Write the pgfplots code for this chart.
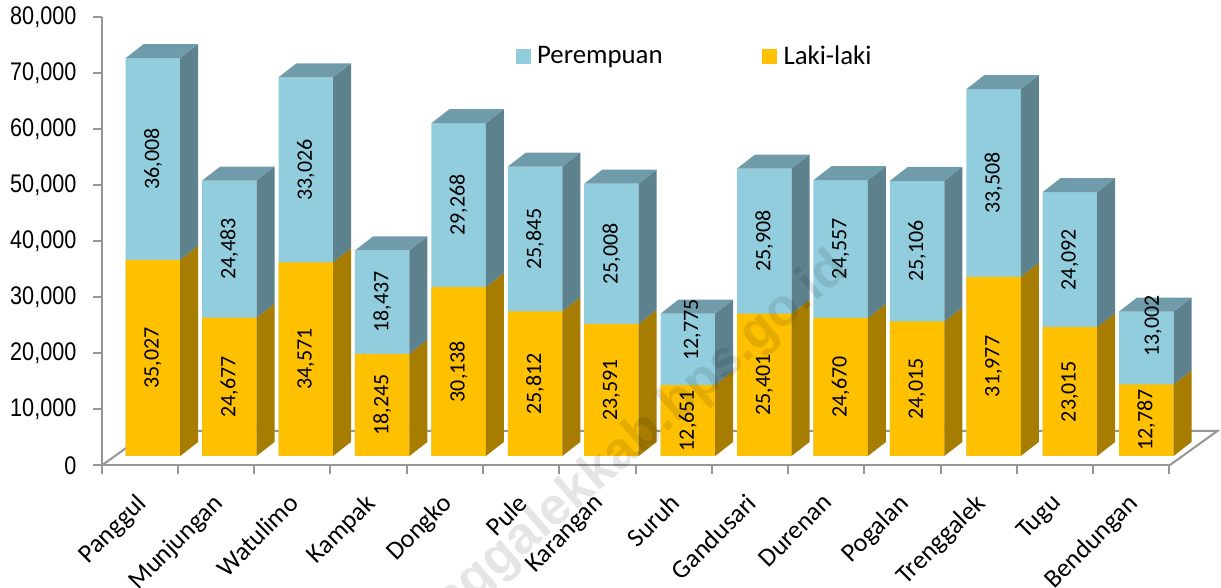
\documentclass[border=0pt]{standalone}
\usepackage{fontspec}
\setmainfont{Carlito}
\newfontfamily\arialf{Liberation Sans}
\usepackage{pgfplots}
\pgfplotsset{compat=1.18}
\usepackage{pgfplotstable}

\definecolor{bluefront}{RGB}{146,205,221}
\definecolor{blueside}{RGB}{94,130,141}
\definecolor{bluetop}{RGB}{112,155,170}
\definecolor{orangefront}{RGB}{255,192,0}
\definecolor{orangeside}{RGB}{166,125,0}
\definecolor{axisgray}{RGB}{150,150,150}

% bx, by: label offsets where the label is not centred in its segment
\pgfplotstableread{
idx name lk pr bx by
0 Panggul 35027 36008 0 0
1 Munjungan 24677 24483 0 0
2 Watulimo 34571 33026 0 0
3 Kampak 18245 18437 0 0
4 Dongko 30138 29268 0 0
5 Pule 25812 25845 0 0
6 Karangan 23591 25008 0 0
7 Suruh 12651 12775 0.06 3480
8 Gandusari 25401 25908 0 0
9 Durenan 24670 24557 0 0
10 Pogalan 24015 25106 0 0
11 Trenggalek 31977 33508 0 0
12 Tugu 23015 24092 0 0
13 Bendungan 12787 13002 0.09 3930
}\data

\newcommand{\sy}[1]{\scalebox{1}[1.18]{#1}}

\begin{document}
\begin{tikzpicture}
\useasboundingbox (-50.85pt,-61.25pt) rectangle (559.65pt,232.75pt);
\begin{axis}[
    at={(0,0)}, anchor=south west,
    scale only axis,
    width=533.8pt, height=224.1pt,
    xmin=0, xmax=14,
    ymin=-1696, ymax=78304,
    clip=false,
    scaled y ticks=false,
    axis lines*=left,
    axis line style={-,axisgray,line width=1pt},
    tick style={axisgray,line width=1pt},
    major tick length=4.5pt,
    tick align=outside,
    xtick={0,...,14},
    x tick label as interval,
    xticklabels={Panggul,Munjungan,Watulimo,Kampak,Dongko,Pule,Karangan,Suruh,Gandusari,Durenan,Pogalan,Trenggalek,Tugu,Bendungan},
    x tick label style={rotate=45,anchor=north east,font=\fontsize{13}{15}\selectfont,inner sep=1pt,xshift=-6.8pt,yshift=-3.4pt},
    ytick={-1696,8304,18304,28304,38304,48304,58304,68304,78304},
    yticklabels={\sy{0},{\sy{10,000}},{\sy{20,000}},{\sy{30,000}},{\sy{40,000}},{\sy{50,000}},{\sy{60,000}},{\sy{70,000}},{\sy{80,000}}},
    y tick label style={font=\arialf\fontsize{10.8}{12}\selectfont,inner sep=1pt,xshift=-7pt},
    legend image code/.code={\fill[#1,draw=none] (0pt,-3.75pt) rectangle (7.5pt,3.75pt);},
    legend style={
        draw=none, fill=none,
        at={(207pt,204.5pt)}, anchor=west,
        legend columns=2,
        font=\fontsize{13.4}{15}\selectfont,
        /tikz/column 1/.style={column sep=1pt},
        /tikz/column 2/.style={column sep=47.5pt},
        /tikz/column 3/.style={column sep=1.5pt},
        inner sep=0pt,
    },
]
% floor outline behind the bars
\addplot[forget plot,axisgray,line width=1pt] coordinates {(0,-1696)(0.63,4464)(14.63,4464)(14,-1696)};

\addlegendimage{fill=bluefront}
\addlegendentry{Perempuan}
\addlegendimage{fill=orangefront}
\addlegendentry{Laki-laki}

% front faces
\addplot[forget plot,ybar,bar width=27.25pt,bar shift=0pt,fill=bluefront,draw=none]
    table[x expr=\thisrow{idx}*1.0021+0.672,y expr=\thisrow{lk}+\thisrow{pr}] {\data};
\addplot[forget plot,ybar,bar width=27.25pt,bar shift=0pt,fill=orangefront,draw=none]
    table[x expr=\thisrow{idx}*1.0021+0.672,y=lk] {\data};

% side and top faces
\pgfplotsforeachungrouped \i in {0,...,13}{
    \pgfplotstablegetelem{\i}{lk}\of\data \edef\lk{\pgfplotsretval}
    \pgfplotstablegetelem{\i}{pr}\of\data \edef\pr{\pgfplotsretval}
    \edef\tot{\the\numexpr\lk+\pr\relax}
    \edef\lkb{\the\numexpr\lk+2500\relax}
    \edef\totb{\the\numexpr\tot+2500\relax}
    \pgfmathsetmacro\xl{\i*1.0021+0.672-0.357}
    \pgfmathsetmacro\xr{\i*1.0021+0.672+0.357}
    \pgfmathsetmacro\xlb{\xl+0.236}
    \pgfmathsetmacro\xrb{\xr+0.236}
    \edef\temp{\noexpand\addplot[forget plot,fill=orangeside,draw=none] coordinates {(\xr,0)(\xrb,2500)(\xrb,\lkb)(\xr,\lk)} --cycle;
        \noexpand\addplot[forget plot,fill=blueside,draw=none] coordinates {(\xr,\lk)(\xrb,\lkb)(\xrb,\totb)(\xr,\tot)} --cycle;
        \noexpand\addplot[forget plot,fill=bluetop,draw=none] coordinates {(\xl,\tot)(\xr,\tot)(\xrb,\totb)(\xlb,\totb)} --cycle;}
    \temp
}

% value labels
\addplot[forget plot,only marks,mark=none,point meta=explicit,
    nodes near coords={\pgfmathprintnumber[fixed,precision=0,1000 sep={,},assume math mode=true]{\pgfplotspointmeta}},
    nodes near coords style={rotate=90,anchor=center,inner sep=0pt,font=\fontsize{11}{13}\selectfont,text=black}]
    table[x expr=\thisrow{idx}*1.0021+0.672,y expr=\thisrow{lk}/2,meta=lk] {\data};
\addplot[forget plot,only marks,mark=none,point meta=explicit,
    nodes near coords={\pgfmathprintnumber[fixed,precision=0,1000 sep={,},assume math mode=true]{\pgfplotspointmeta}},
    nodes near coords style={rotate=90,anchor=center,inner sep=0pt,font=\fontsize{11}{13}\selectfont,text=black}]
    table[x expr=\thisrow{idx}*1.0021+0.672+\thisrow{bx},y expr=\thisrow{lk}+\thisrow{pr}/2+\thisrow{by},meta=pr] {\data};
\end{axis}
% faint watermark across the chart
\node[rotate=41,anchor=mid east,opacity=0.1,inner sep=0pt,font=\arialf\bfseries\fontsize{26}{30}\selectfont] at (373pt,98.5pt) {trenggalekkab.bps.go.id};
\end{tikzpicture}
\end{document}
